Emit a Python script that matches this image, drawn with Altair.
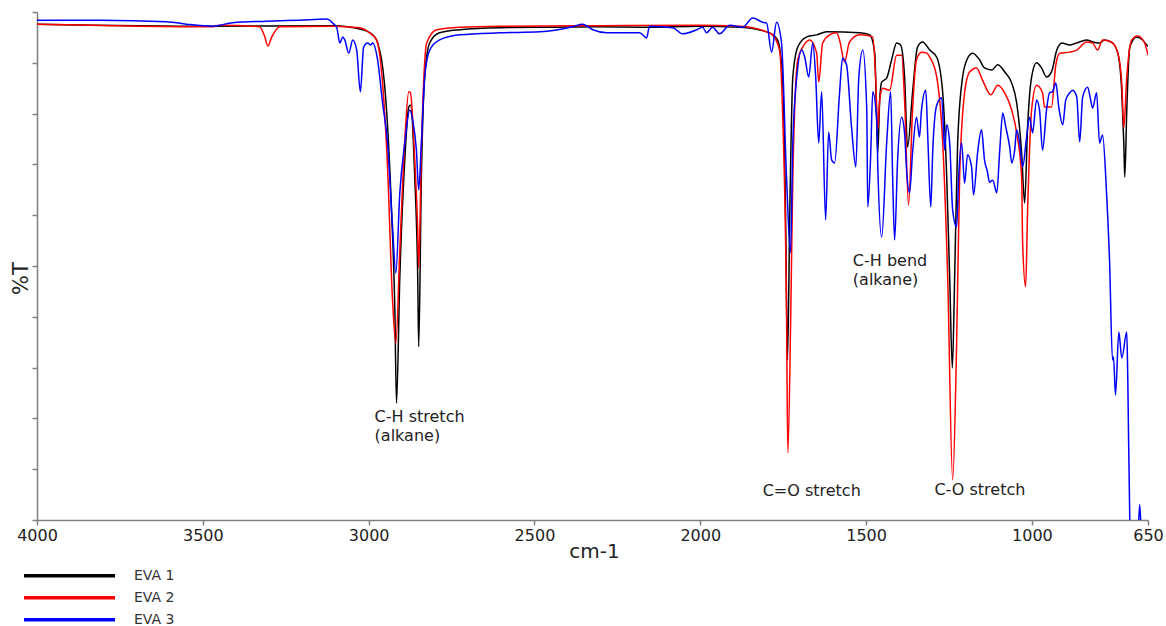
import altair as alt
import pandas as pd

# ---------------- data (wavenumber cm-1, %T) ----------------
eva1_wn = [4000, 3470, 3108, 3018, 2988, 2976, 2967, 2961, 2946, 2931, 2921, 2916, 2906, 2891, 2879, 2874,
           2861, 2852, 2849, 2841, 2831, 2816, 2786, 2725, 2605, 2454, 2303, 2153, 2002, 1881, 1791, 1767,
           1752, 1743, 1737, 1730, 1721, 1706, 1679, 1649, 1619, 1519, 1489, 1474, 1468, 1465, 1459, 1453,
           1438, 1423, 1408, 1396, 1384, 1375, 1360, 1345, 1330, 1308, 1287, 1269, 1257, 1248, 1240, 1233,
           1224, 1209, 1194, 1179, 1158, 1143, 1121, 1103, 1082, 1061, 1046, 1031, 1022, 1013, 1001, 986,
           971, 956, 941, 925, 910, 886, 865, 835, 817, 796, 781, 757, 741, 729, 723, 720, 714, 705, 684,
           666, 654, 650]
eva1_t = [97.6, 97.2, 97.3, 96.5, 95.5, 94.5, 92.5, 90.6, 80.7, 61.0, 41.3, 23.0, 47.8, 70.9, 81.3, 81.7,
          67.5, 47.8, 34.1, 67.5, 87.2, 93.9, 95.9, 96.5, 96.9, 97.0, 97.1, 97.0, 97.2, 97.0, 95.9, 94.5,
          87.2, 61.0, 31.5, 61.0, 87.2, 93.1, 95.1, 95.5, 96.1, 95.9, 95.5, 91.9, 78.7, 72.2, 82.7, 86.2,
          87.0, 90.6, 93.9, 93.5, 87.2, 73.4, 84.1, 93.1, 94.1, 92.5, 91.1, 84.1, 67.5, 47.8, 29.9, 47.8,
          74.2, 87.2, 90.9, 91.9, 90.6, 89.0, 88.6, 89.6, 88.2, 86.0, 82.1, 72.2, 62.4, 77.4, 87.2, 90.0,
          89.0, 87.2, 88.2, 92.5, 93.9, 93.5, 93.9, 94.5, 94.1, 93.9, 94.5, 93.9, 91.9, 84.1, 74.2, 67.5,
          80.7, 93.1, 95.1, 94.5, 93.5, 93.3]

eva2_wn = [4000, 3470, 3449, 3329, 3313, 3304, 3292, 3268, 3108, 3027, 2997, 2976, 2958, 2943, 2928, 2918,
           2906, 2891, 2879, 2874, 2861, 2852, 2849, 2841, 2825, 2795, 2725, 2605, 2303, 2002, 1881, 1842,
           1800, 1782, 1761, 1752, 1740, 1736, 1727, 1721, 1706, 1691, 1670, 1649, 1643, 1631, 1610, 1589,
           1580, 1565, 1550, 1519, 1480, 1471, 1465, 1459, 1450, 1429, 1408, 1393, 1384, 1372, 1360, 1348,
           1333, 1317, 1308, 1287, 1269, 1254, 1239, 1227, 1218, 1203, 1188, 1167, 1149, 1124, 1103, 1082,
           1061, 1046, 1031, 1028, 1019, 1013, 1001, 986, 968, 962, 941, 928, 916, 886, 865, 835, 817, 802,
           787, 760, 741, 729, 723, 714, 699, 681, 660, 650]
eva2_t = [97.6, 97.1, 97.4, 97.1, 95.1, 93.3, 95.1, 97.1, 97.2, 96.9, 95.9, 94.5, 86.0, 69.5, 43.3, 34.8,
          53.1, 74.8, 84.3, 84.1, 70.9, 57.1, 49.6, 72.8, 93.9, 96.5, 97.0, 97.2, 97.3, 97.4, 97.2, 96.9,
          96.1, 95.5, 92.5, 80.7, 41.3, 13.2, 41.3, 67.5, 90.6, 93.1, 94.5, 91.9, 86.2, 93.9, 95.5, 95.9,
          94.5, 90.2, 94.1, 95.5, 95.1, 86.6, 76.8, 82.7, 85.0, 84.6, 91.5, 91.5, 82.7, 62.0, 80.7, 90.6,
          92.1, 91.9, 91.1, 87.2, 74.2, 47.8, 7.9, 34.8, 67.5, 84.1, 88.2, 89.0, 86.6, 83.7, 85.6, 84.1,
          80.7, 76.2, 67.5, 54.5, 45.9, 61.0, 80.7, 85.6, 84.1, 81.3, 81.3, 89.6, 91.9, 92.1, 92.5, 94.1,
          93.9, 92.5, 94.5, 94.1, 91.9, 86.0, 77.2, 87.2, 94.5, 95.3, 93.9, 91.5]

eva3_wn = [4000, 3811, 3609, 3549, 3470, 3410, 3308, 3208, 3126, 3108, 3096, 3087, 3078, 3072, 3060, 3048,
           3036, 3025, 3015, 3003, 2994, 2988, 2973, 2958, 2943, 2928, 2918, 2906, 2891, 2876, 2867, 2856,
           2849, 2841, 2831, 2816, 2786, 2725, 2605, 2484, 2385, 2355, 2324, 2282, 2183, 2162, 2153, 2083,
           2053, 2011, 1993, 1981, 1963, 1942, 1911, 1872, 1842, 1812, 1800, 1785, 1770, 1755, 1740, 1728,
           1721, 1709, 1694, 1685, 1673, 1661, 1652, 1643, 1634, 1622, 1613, 1604, 1595, 1580, 1571, 1559,
           1544, 1531, 1522, 1510, 1498, 1495, 1486, 1480, 1468, 1465, 1453, 1438, 1426, 1420, 1414, 1405,
           1393, 1384, 1378, 1369, 1360, 1348, 1339, 1333, 1320, 1314, 1305, 1299, 1287, 1272, 1263, 1257,
           1248, 1239, 1227, 1221, 1212, 1203, 1194, 1182, 1176, 1164, 1152, 1143, 1134, 1128, 1118, 1106,
           1097, 1088, 1079, 1067, 1061, 1052, 1046, 1037, 1028, 1016, 1007, 998, 986, 977, 968, 956, 947,
           938, 928, 919, 907, 898, 886, 877, 865, 856, 847, 832, 823, 817, 805, 796, 787, 775, 766, 757,
           754, 748, 738, 729, 714, 711, 705, 696, 681, 675, 669, 650]
eva3_t = [98.4, 98.4, 98.1, 97.6, 97.2, 97.9, 98.2, 98.4, 98.6, 97.8, 96.9, 93.9, 95.1, 94.5, 91.9, 94.5,
          92.5, 84.3, 93.1, 93.9, 93.5, 93.9, 90.6, 82.1, 74.2, 57.7, 48.6, 64.4, 74.2, 80.7, 78.7, 72.8,
          65.0, 74.2, 87.2, 92.5, 94.5, 95.5, 95.9, 96.1, 97.1, 97.6, 96.5, 95.9, 95.9, 94.9, 97.2, 96.9,
          95.7, 96.5, 97.0, 95.9, 97.0, 95.7, 97.4, 97.0, 98.8, 98.0, 97.8, 92.1, 98.0, 93.9, 67.5, 52.6,
          74.2, 87.2, 92.5, 91.1, 87.2, 93.9, 87.2, 74.2, 84.3, 59.1, 76.4, 70.9, 70.3, 84.1, 90.9, 89.6,
          77.4, 69.5, 87.2, 92.5, 80.7, 61.6, 72.2, 84.3, 78.7, 70.3, 55.7, 74.2, 84.3, 67.5, 55.1, 70.9,
          79.3, 76.2, 68.9, 64.4, 72.2, 79.3, 75.4, 80.7, 84.6, 75.4, 61.6, 72.8, 81.7, 83.1, 72.8, 77.8,
          74.2, 61.0, 57.7, 67.5, 74.2, 66.3, 71.9, 69.5, 64.0, 72.2, 76.8, 70.9, 68.5, 66.5, 66.9, 64.4,
          72.8, 80.1, 77.4, 73.4, 70.3, 72.8, 76.8, 74.2, 69.5, 75.4, 79.3, 76.2, 82.7, 80.7, 72.8, 80.7, 84.1,
          84.3, 86.0, 81.3, 77.8, 82.7, 84.1, 84.6, 83.3, 74.4, 83.3, 85.2, 82.7, 81.1, 84.1, 74.2, 75.8, 64.4, 51.2, 31.5,
          32.1, 24.6, 37.0, 31.9, 37.0, 28.1, 0.4, -8.0, -4.0, 3.0, -4.0, -8.0]

series_names = ["EVA  1", "EVA  2", "EVA  3"]
series_colors = ["#000000", "#ff0000", "#0000ff"]

x_ticks = [4000, 3500, 3000, 2500, 2000, 1500, 1000, 650]
y_ticks = [0, 10, 20, 30, 40, 50, 60, 70, 80, 90, 100]

ann_text = ["C-H stretch", "(alkane)", "C=O stretch", "C-H bend", "(alkane)", "C-O stretch"]
ann_wn = [2982, 2982, 1812, 1540, 1540, 1294]
ann_t = [20.3, 16.5, 5.7, 51.0, 47.2, 5.9]

# ---------------- build tables ----------------
rows = []
for name, wns, ts in zip(series_names, [eva1_wn, eva2_wn, eva3_wn], [eva1_t, eva2_t, eva3_t]):
    for w, t in zip(wns, ts):
        rows.append({"series": name, "wn": w, "T": t})
df = pd.DataFrame(rows)
ann = pd.DataFrame({"text": ann_text, "wn": ann_wn, "T": ann_t})

FONT = "DejaVu Sans"
x_scale = alt.Scale(domain=[650, 4000], reverse=True, nice=False, zero=False)
y_scale = alt.Scale(domain=[0, 100], nice=False, zero=False)

x_axis = alt.Axis(values=x_ticks, title="cm-1", grid=False, format="d",
                  labelFont=FONT, labelFontSize=16, labelColor="#222222",
                  labelPadding=2, labelFlush=False, labelOverlap=False,
                  tickSize=5, tickColor="#808080", tickWidth=1.5,
                  domainColor="#808080", domainWidth=1.5,
                  titleFont=FONT, titleFontSize=20, titleFontWeight="normal",
                  titleColor="#222222", titleX=557, titleY=31,
                  titleAlign="center", titleBaseline="middle")
y_axis = alt.Axis(values=y_ticks, labels=False, title="%T", grid=False,
                  tickSize=5, tickColor="#808080", tickWidth=1.5,
                  domainColor="#808080", domainWidth=1.5,
                  titleFont=FONT, titleFontSize=21, titleFontWeight="normal",
                  titleColor="#222222", titleX=-15.5, titleY=266,
                  titleAlign="center", titleBaseline="middle")

lines = alt.Chart(df).mark_line(strokeWidth=1.5, clip=True, interpolate="monotone").encode(
    x=alt.X("wn:Q", scale=x_scale, axis=x_axis, title="cm-1"),
    y=alt.Y("T:Q", scale=y_scale, axis=y_axis, title="%T"),
    color=alt.Color("series:N",
                    scale=alt.Scale(domain=series_names, range=series_colors),
                    legend=alt.Legend(title=None, orient="none", legendX=-15, legendY=552.7,
                                      symbolType="stroke", symbolSize=8281, symbolStrokeWidth=3.5,
                                      clipHeight=22, rowPadding=0, labelOffset=17, padding=0,
                                      labelFont=FONT, labelFontSize=14, labelColor="#333333")),
)

texts = alt.Chart(ann).mark_text(align="left", baseline="middle", font=FONT, fontSize=16,
                                 color="#222222").encode(
    x=alt.X("wn:Q", scale=x_scale, axis=x_axis, title="cm-1"),
    y=alt.Y("T:Q", scale=y_scale, axis=y_axis, title="%T"),
    text="text:N",
)

chart = alt.layer(lines, texts).properties(
    width=1111, height=508,
    padding={"left": 37, "top": 12, "right": 18, "bottom": 106},
    autosize=alt.AutoSizeParams(type="none"),
    background="white",
).configure_view(stroke="transparent")

chart.save("out.html", embed_options={"renderer": "svg", "actions": False})
